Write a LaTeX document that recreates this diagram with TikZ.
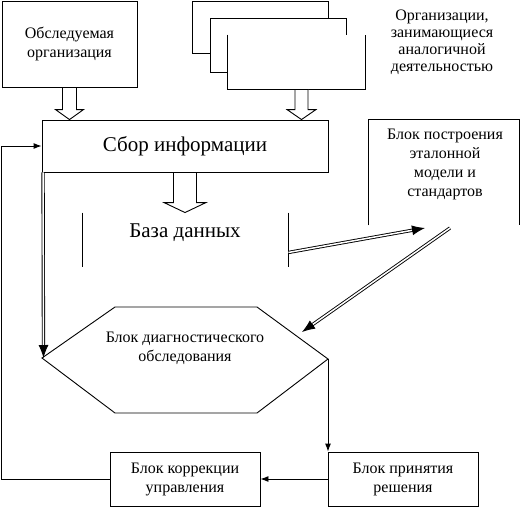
\documentclass[tikz,border=0pt]{standalone}
\usepackage{fontspec}
\setmainfont{Liberation Serif}
\newfontfamily\serifru{Liberation Serif}
\usetikzlibrary{arrows.meta,calc}
\tikzset{
  every node/.style={font=\serifru},
  blk/.style={draw,fill=white,inner sep=0pt,align=center,font=\serifru\fontsize{16}{19}\selectfont},
  smalltxt/.style={align=center,font=\serifru\fontsize{16}{19}\selectfont},
  bigtxt/.style={font=\serifru\fontsize{21}{24}\selectfont},
  dbl/.style={double,double distance=1.5pt,shorten >=10pt},
  dbltip/.style={-{Latex[length=13pt,width=10pt]}},
  sgl/.style={-{Latex[length=8pt,width=6pt]}},
}
% hollow block arrow: #1 half shaft, #2 half head, #3 from, #4 to
\newcommand\fatarrow[4]{%
  \draw[fill=white] let \p1=#3, \p2=#4 in
    (\x1-#1pt,\y1) -- (\x1-#1pt,\y2+10pt) -- (\x1-#2pt,\y2+10pt) -- (\x1,\y2)
    -- (\x1+#2pt,\y2+10pt) -- (\x1+#1pt,\y2+10pt) -- (\x1+#1pt,\y1) -- cycle;}
% double line with a solid head
\newcommand\dblarrow[2]{%
  \draw[dbl] #1 -- #2;
  \draw[dbltip] ($#2!13pt!#1$) -- #2;}

\begin{document}
\begin{tikzpicture}[x=1pt,y=-1pt,line width=0.9pt]
  \useasboundingbox (0,0) rectangle (520,507);
  % sources
  \node[blk,minimum width=135pt,minimum height=86pt] (obs) at (69.5,44) {Обследуемая\\организация};
  \node[blk,minimum width=136pt,minimum height=52pt] (org1) at (260,27) {};
  \node[blk,minimum width=136pt,minimum height=54pt] (org2) at (278,45) {};
  \node[fill=white,minimum width=137pt,minimum height=54pt] (org3) at (296.5,62) {};
  \draw (org3.north west) |- (org3.south east) -- (org3.north east);
  \node[align=center,font=\serifru\fontsize{16}{17}\selectfont] (orgtxt) at (442,42)
    {Организации,\\занимающиеся\\аналогичной\\деятельностью};
  % collection and data base
  \node[draw,bigtxt,minimum width=286pt,minimum height=52pt] (sbor) at (185,146) {Сбор информации};
  \node[minimum width=205pt,minimum height=54pt] (baza) at (185.5,240) {};
  \node[bigtxt] (bazatxt) at (185,233) {База данных};
  \draw (baza.north west) -- (baza.south west);
  \draw (baza.north east) -- (baza.south east);
  \fatarrow{7}{14}{(obs.south)}{(obs.south |- sbor.north)}
  \fatarrow{6.5}{14.5}{([xshift=5pt]org3.south)}{([xshift=5pt]org3.south |- sbor.north)}
  \fatarrow{11.5}{21}{(sbor.south)}{(baza.north)}
  % reference model
  \node[minimum width=150pt,minimum height=105pt] (etal) at (444,172.5) {};
  \draw (etal.south west) |- (etal.north east) -- (etal.south east);
  \node[smalltxt] (etaltxt) at (445,164)
    {Блок построения\\эталонной\\модели и\\стандартов};
  % diagnostic block
  \coordinate (hexL) at (42,358);
  \coordinate (hexR) at (328,359);
  \draw (hexL) -- (115,307) -- (257,307) -- (hexR) -- (257,413) -- (115,413) -- cycle;
  \node[smalltxt] (hex) at (185,348) {Блок диагностического\\обследования};
  % decision and correction
  \node[blk,minimum width=150pt,minimum height=54pt] (prin) at (403,479) {Блок принятия\\решения};
  \node[blk,minimum width=150pt,minimum height=54pt] (korr) at (185,479) {Блок коррекции\\управления};
  % connectors
  \coordinate (e1) at (425,228);
  \coordinate (e2) at (450,228);
  \coordinate (h1) at (302,332);
  \dblarrow{($(baza.south east)+(0,-15)$)}{(e1)}
  \dblarrow{(e2)}{(h1)}
  \dblarrow{($(sbor.south west)+(1.5,0)$)}{($(hexL)+(1.5,0)$)}
  \draw[sgl] (hexR) -- (hexR |- prin.north);
  \draw[sgl] (prin.west) -- (korr.east);
  \draw[sgl] (korr.west) -| ([xshift=-40pt]sbor.west) -- (sbor.west);
\end{tikzpicture}
\end{document}
